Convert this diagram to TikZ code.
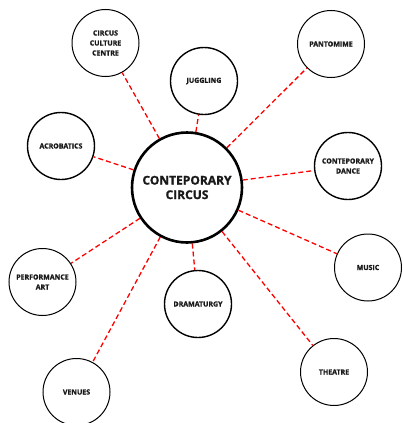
\documentclass[tikz,border=0pt]{standalone}
\usepackage{fontspec}
\setmainfont{Open Sans}[BoldFont={Open Sans Bold},BoldFeatures={FakeBold=1.3}]
\begin{document}
\begin{tikzpicture}[x=1pt,y=-1pt,
  bub/.style={circle,draw,line width=1pt,minimum size=67pt,inner sep=0pt,align=center,text=black!90,font=\bfseries\fontsize{7}{10}\selectfont},
  bubt/.style={bub,line width=1.4pt},
  hub/.style={circle,draw,line width=2.6pt,minimum size=110pt,inner sep=0pt,align=center,text=black!90,font=\bfseries\fontsize{12}{14.5}\selectfont},
  link/.style={draw=red,line width=1.3pt,dash pattern=on 5pt off 3pt}]
\useasboundingbox (0,0) rectangle (402,423);
\node[hub] (hub) at (187,187.5) {CONTEPORARY\\CIRCUS};
\node[bub] (ccc) at (105.5,43) {CIRCUS\\CULTURE\\CENTRE};
\node[bubt] (jug) at (204,81) {JUGGLING};
\node[bub] (pant) at (331,44) {PANTOMIME};
\node[bubt] (acro) at (61,146) {ACROBATICS};
\node[bubt] (dance) at (348,166) {CONTEPORARY\\DANCE};
\node[bub] (perf) at (42.5,282) {PERFORMANCE\\ART};
\node[bubt] (dram) at (198,304) {DRAMATURGY};
\node[bub] (music) at (368,267.5) {MUSIC};
\node[bub] (ven) at (76.5,392) {VENUES};
\node[bub] (thea) at (334,372) {THEATRE};
\foreach \n in {ccc,jug,pant,acro,dance,perf,dram,music,ven,thea}
  \draw[link] (hub) -- (\n);
\end{tikzpicture}
\end{document}
